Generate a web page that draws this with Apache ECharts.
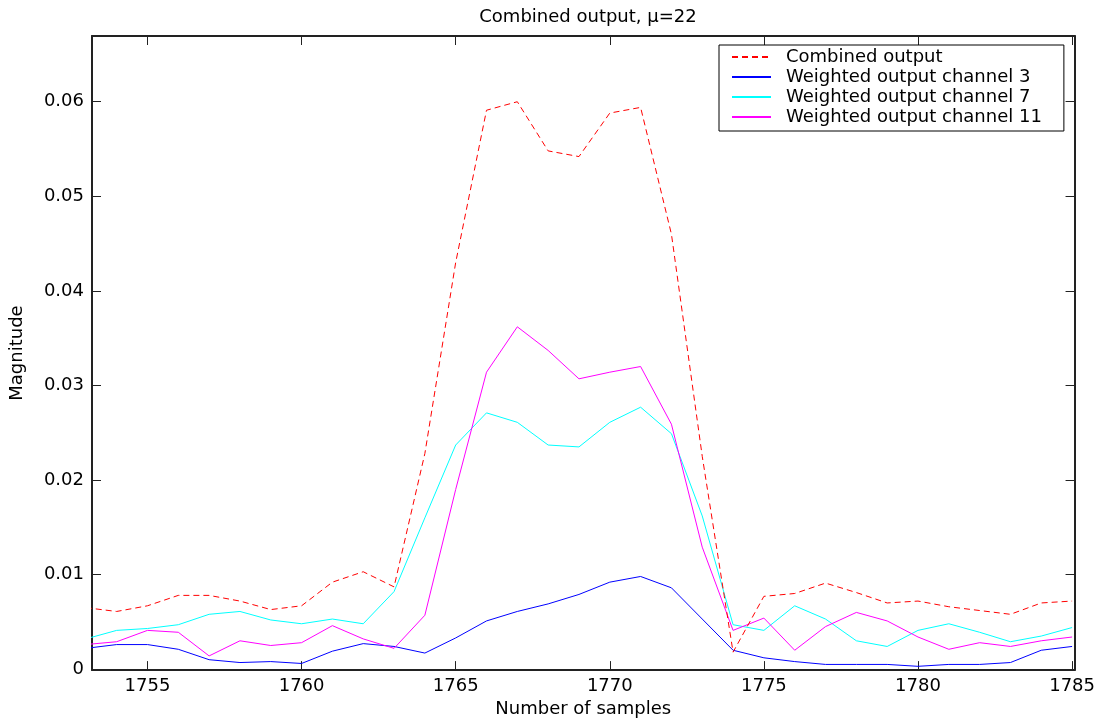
<!DOCTYPE html>
<html>
<head>
<meta charset="utf-8">
<script src="https://cdn.jsdelivr.net/npm/echarts@6/dist/echarts.min.js"></script>
<style>
html,body{margin:0;padding:0;background:#fff;}
#chart{width:1098px;height:723px;}
</style>
</head>
<body>
<div id="chart"></div>
<script>
var samples = [1753,1754,1755,1756,1757,1758,1759,1760,1761,1762,1763,1764,1765,1766,1767,1768,1769,1770,1771,1772,1773,1774,1775,1776,1777,1778,1779,1780,1781,1782,1783,1784,1785];
var combined = [0.0065,0.0061,0.0067,0.0078,0.0078,0.0072,0.0063,0.0067,0.0092,0.0103,0.0087,0.0228,0.0430,0.0591,0.0600,0.0548,0.0542,0.0588,0.0594,0.0460,0.0225,0.0018,0.0077,0.0080,0.0091,0.0081,0.0070,0.0072,0.0066,0.0062,0.0058,0.0070,0.0072];
var channel3 = [0.0022,0.0026,0.0026,0.0021,0.0010,0.0007,0.0008,0.0006,0.0019,0.0027,0.0024,0.0017,0.0033,0.0051,0.0061,0.0069,0.0079,0.0092,0.0098,0.0086,0.0053,0.0020,0.0012,0.0008,0.0005,0.0005,0.0005,0.0003,0.0005,0.0005,0.0007,0.0020,0.0024];
var channel7 = [0.0032,0.0041,0.0043,0.0047,0.0058,0.0061,0.0052,0.0048,0.0053,0.0048,0.0082,0.0160,0.0237,0.0271,0.0261,0.0237,0.0235,0.0261,0.0277,0.0249,0.0162,0.0047,0.0041,0.0067,0.0053,0.0030,0.0024,0.0041,0.0048,0.0039,0.0029,0.0035,0.0044];
var channel11 = [0.0026,0.0029,0.0041,0.0039,0.0014,0.0030,0.0025,0.0028,0.0046,0.0032,0.0022,0.0057,0.0190,0.0314,0.0362,0.0337,0.0307,0.0314,0.0320,0.0259,0.0129,0.0041,0.0054,0.0020,0.0045,0.0060,0.0051,0.0034,0.0021,0.0028,0.0024,0.0030,0.0034];
var seriesNames = ['Combined output','Weighted output channel 3','Weighted output channel 7','Weighted output channel 11'];
var titleText = 'Combined output, \u03bc=22';
var xName = 'Number of samples';
var yName = 'Magnitude';

function pairs(vals){ return samples.map(function(s,i){ return [s, vals[i]]; }); }

var FONT = 'DejaVu Sans';
var FS = 18;
var XMIN = 1753.2, XMAX = 1785.08, YMIN = -0.0001, YMAX = 0.06695;
var axisLineStyle = {color:'#222', width:2};
var tickStyle = {color:'#222', width:1};

var chart = echarts.init(document.getElementById('chart'), null, {renderer:'canvas'});
chart.setOption({
  backgroundColor:'#fff',
  animation:false,
  title:{
    text:titleText, left:583, top:3, textAlign:'center',
    textStyle:{fontFamily:FONT, fontSize:FS, fontWeight:'normal', color:'#000'}
  },
  grid:{left:92, top:36, right:23, bottom:50, containLabel:false},
  legend:{
    orient:'vertical', left:719, top:45,
    padding:[2,22,4,12],
    itemGap:0, itemWidth:39, itemHeight:20,
    backgroundColor:'#fff', borderColor:'#000', borderWidth:1,
    itemStyle:{opacity:0, borderWidth:0},
    textStyle:{fontFamily:FONT, fontSize:FS, color:'#000', lineHeight:20, padding:[0,0,0,10]},
    data:seriesNames
  },
  xAxis:[{
    type:'value', position:'bottom', min:XMIN, max:XMAX, minInterval:5, maxInterval:5,
    name:xName, nameLocation:'middle', nameGap:24,
    nameTextStyle:{fontFamily:FONT, fontSize:FS, color:'#000'},
    axisLine:{show:true, onZero:false, lineStyle:axisLineStyle},
    axisTick:{show:true, inside:true, length:9, lineStyle:tickStyle},
    axisLabel:{show:true, margin:7, fontFamily:FONT, fontSize:FS, color:'#000', showMinLabel:false, showMaxLabel:false,
      formatter:function(v){ return String(Math.round(v)); }},
    splitLine:{show:false}
  },{
    type:'value', position:'top', min:XMIN, max:XMAX, minInterval:5, maxInterval:5,
    axisLine:{show:true, onZero:false, lineStyle:axisLineStyle},
    axisTick:{show:true, inside:true, length:9, lineStyle:tickStyle},
    axisLabel:{show:false}, splitLine:{show:false}
  }],
  yAxis:[{
    type:'value', position:'left', min:YMIN, max:YMAX, minInterval:0.01, maxInterval:0.01,
    name:yName, nameLocation:'middle', nameGap:66, nameRotate:90,
    nameTextStyle:{fontFamily:FONT, fontSize:FS, color:'#000'},
    axisLine:{show:true, onZero:false, lineStyle:axisLineStyle},
    axisTick:{show:true, inside:true, length:9, lineStyle:tickStyle},
    axisLabel:{show:true, margin:8, fontFamily:FONT, fontSize:FS, color:'#000', showMinLabel:false, showMaxLabel:false},
    splitLine:{show:false}
  },{
    type:'value', position:'right', min:YMIN, max:YMAX, minInterval:0.01, maxInterval:0.01,
    axisLine:{show:true, onZero:false, lineStyle:axisLineStyle},
    axisTick:{show:true, inside:true, length:9, lineStyle:tickStyle},
    axisLabel:{show:false}, splitLine:{show:false}
  }],
  series:[
    {name:seriesNames[0], type:'line', data:pairs(combined), symbol:'none', clip:true,
     lineStyle:{color:'#ff0000', width:1, type:[6,4]}, itemStyle:{color:'#ff0000'}, z:5},
    {name:seriesNames[1], type:'line', data:pairs(channel3), symbol:'none', clip:true,
     lineStyle:{color:'#0000ff', width:1}, itemStyle:{color:'#0000ff'}},
    {name:seriesNames[2], type:'line', data:pairs(channel7), symbol:'none', clip:true,
     lineStyle:{color:'#00ffff', width:1}, itemStyle:{color:'#00ffff'}},
    {name:seriesNames[3], type:'line', data:pairs(channel11), symbol:'none', clip:true,
     lineStyle:{color:'#ff00ff', width:1}, itemStyle:{color:'#ff00ff'}}
  ]
});
</script>
</body>
</html>
